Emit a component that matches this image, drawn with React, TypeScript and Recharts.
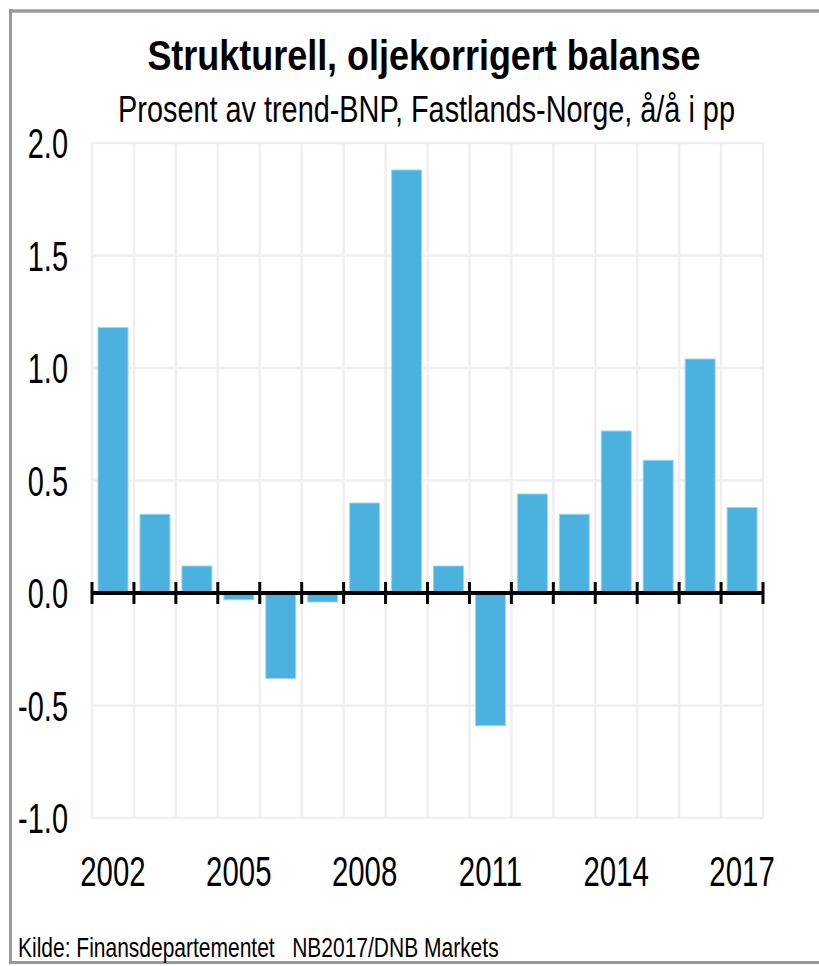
import { Bar, BarChart, CartesianGrid, ReferenceLine, XAxis, YAxis } from "recharts";

const years = [
  "2002", "2003", "2004", "2005", "2006", "2007", "2008", "2009",
  "2010", "2011", "2012", "2013", "2014", "2015", "2016", "2017",
];
const balance = [
  1.18, 0.35, 0.12, -0.03, -0.38, -0.04, 0.4, 1.88,
  0.12, -0.59, 0.44, 0.35, 0.72, 0.59, 1.04, 0.38,
];
const yTicks = [-1, -0.5, 0, 0.5, 1, 1.5, 2];

const title = "Strukturell, oljekorrigert balanse";
const subtitle = "Prosent av trend-BNP, Fastlands-Norge, å/å i pp";
const source = "Kilde: Finansdepartementet   NB2017/DNB Markets";

const data = years.map((year, i) => ({ year, value: balance[i] }));

const W = 819;
const H = 966;
const font = '"Liberation Sans", Arial, sans-serif';
const barColor = "#4BB1DF";

function YearTick({ x, y, payload }: any) {
  return (
    <g transform={`translate(${x},${y + 68}) scale(0.7,1)`}>
      <text textAnchor="middle" fontSize={42} fill="#000" fontFamily={font}>
        {payload.value}
      </text>
    </g>
  );
}

function ValueTick({ x, y, payload }: any) {
  return (
    <g transform={`translate(${x},${y}) scale(0.69,1)`}>
      <text textAnchor="end" dy="0.36em" fontSize={42} fill="#000" fontFamily={font}>
        {Number(payload.value).toFixed(1)}
      </text>
    </g>
  );
}

// zero line with tick marks on each category boundary
function ZeroAxis(props: any) {
  const { x1, x2, y1 } = props;
  const step = (x2 - x1) / years.length;
  return (
    <g>
      <line x1={x1} x2={x2} y1={y1} y2={y1} stroke="#000" strokeWidth={4} />
      {Array.from({ length: years.length + 1 }, (_, i) => (
        <line
          key={i}
          x1={x1 + i * step}
          x2={x1 + i * step}
          y1={y1 - 11}
          y2={y1 + 11}
          stroke="#000"
          strokeWidth={3}
        />
      ))}
    </g>
  );
}

export default function App() {
  return (
    <div style={{ position: "relative", width: W, height: H, background: "#fff", overflow: "hidden" }}>
      <style>{"html,body{margin:0;padding:0;overflow:hidden;background:#fff}"}</style>
      <BarChart
        width={W}
        height={H}
        data={data}
        margin={{ top: 143, right: 56, bottom: 88, left: 0 }}
      >
        <CartesianGrid
          stroke="#efefef"
          strokeWidth={2.5}
          verticalCoordinatesGenerator={({ offset, width }: any) => {
            const w = offset.width ?? width - offset.left - offset.right;
            return Array.from({ length: years.length + 1 }, (_, i) => offset.left + (i * w) / years.length);
          }}
        />
        <XAxis
          dataKey="year"
          interval={2}
          axisLine={false}
          tickLine={false}
          tickSize={0}
          tickMargin={0}
          height={60}
          tick={<YearTick />}
        />
        <YAxis
          domain={[-1, 2]}
          ticks={yTicks}
          interval={0}
          width={92}
          axisLine={false}
          tickLine={false}
          tickSize={0}
          tickMargin={24}
          tick={<ValueTick />}
        />
        <Bar
          dataKey="value"
          fill={barColor}
          stroke="#9fd4ee"
          strokeWidth={1}
          barSize={30}
          isAnimationActive={false}
        />
        <ReferenceLine y={0} shape={<ZeroAxis />} />
      </BarChart>
      <svg
        width={W}
        height={H}
        style={{ position: "absolute", left: 0, top: 0, pointerEvents: "none" }}
      >
        <line x1={9} x2={W} y1={11} y2={11} stroke="#999" strokeWidth={3.5} />
        <line x1={10.5} x2={10.5} y1={9} y2={964} stroke="#999" strokeWidth={3} />
        <line x1={9} x2={W} y1={962.5} y2={962.5} stroke="#999" strokeWidth={3} />
        <g transform="translate(424,70) scale(0.856,1)">
          <text textAnchor="middle" fontSize={42} fontWeight="bold" fill="#000" fontFamily={font}>
            {title}
          </text>
        </g>
        <g transform="translate(426.5,121.5) scale(0.78,1)">
          <text textAnchor="middle" fontSize={37} fill="#000" fontFamily={font}>
            {subtitle}
          </text>
        </g>
        <g transform="translate(18,957) scale(0.75,1)">
          <text fontSize={28} fill="#000" fontFamily={font} style={{ whiteSpace: "pre" }}>
            {source}
          </text>
        </g>
      </svg>
    </div>
  );
}
